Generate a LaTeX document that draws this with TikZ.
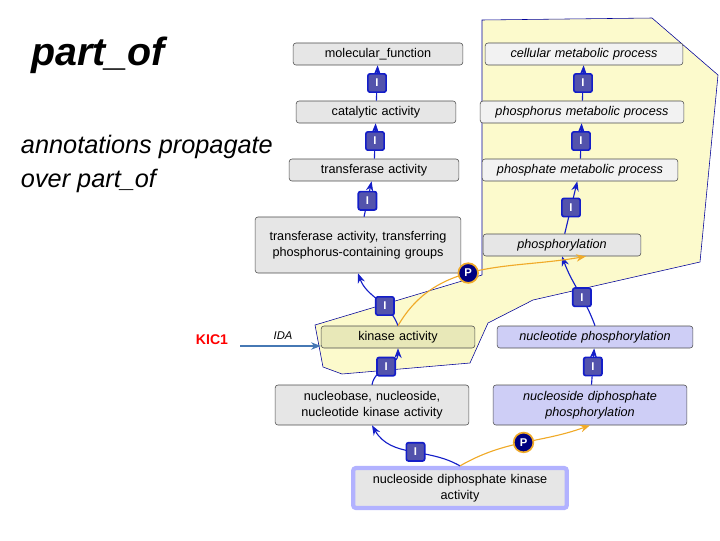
\documentclass[tikz,border=0pt]{standalone}
\usepackage{fontspec}
\setmainfont{Liberation Sans}
\usetikzlibrary{positioning,arrows.meta}
\definecolor{colorterm}  {RGB}{230,230,230}
\definecolor{colorkinase}{RGB}{232,232,184}
\definecolor{colorproc}  {RGB}{206,206,246}
\definecolor{colorhull}  {RGB}{252,250,204}
\definecolor{colorisa}   {RGB}{20,30,200}
\definecolor{colorpart}  {RGB}{240,170,40}
\definecolor{colorida}   {RGB}{70,120,180}

\begin{document}
\begin{tikzpicture}[
    x=0.025cm, y=-0.025cm,
    font={\small},
    term/.style={draw=black!70,fill=colorterm,rounded corners=2pt,align=center,inner sep=2pt,minimum height=0.55cm},
    proc/.style={term,font={\small\itshape}},
    isa/.style={-{Stealth[length=7pt]},thick,colorisa},
    partof/.style={-{Stealth[length=7pt]},thick,colorpart},
    ibadge/.style={draw=colorisa,very thick,fill=blue!35!gray,text=white,font={\footnotesize\bfseries},inner sep=1.5pt,minimum size=13pt,rounded corners=1.5pt},
    pbadge/.style={circle,draw=colorpart,very thick,fill=blue!50!black,text=white,font={\footnotesize\bfseries},inner sep=1pt,minimum size=14pt},
]
    \useasboundingbox (0,0) rectangle (720,540);

    % Hull
    \fill[colorhull,draw=blue!60!black] (482,20) -- (652,18) -- (718,75) -- (700,262) -- (533,300)
        -- (488,323) -- (470,363) -- (342,374) -- (323,367) -- (315,325)
        -- (482,275) -- cycle;

    % Nodes
    \node[term,text width=4.1cm]  (molfun)   at (378,54)  {molecular\_function};
    \node[term,text width=3.85cm] (catalytic) at (376,112) {catalytic activity};
    \node[term,text width=4.1cm]  (transf)   at (374,170) {transferase activity};
    \node[term,text width=5cm,minimum height=1.4cm] (transfp) at (358,245) {transferase activity, transferring phosphorus-containing groups};
    \node[term,fill=colorkinase,text width=3.7cm] (kinase) at (398,337) {kinase activity};
    \node[term,text width=4.7cm,minimum height=1cm] (nucleo) at (372,405) {nucleobase, nucleoside,\\ nucleotide kinase activity};
    \node[term,draw=blue!30,line width=3pt,text width=5.2cm,minimum height=1cm] (ndpk) at (460,488) {nucleoside diphosphate kinase\\ activity};

    \node[proc,fill=colorterm!50,text width=4.8cm] (cellmet)  at (584,54)  {cellular metabolic process};
    \node[proc,fill=colorterm!50,text width=4.95cm] (phosmet) at (582,112) {phosphorus metabolic process};
    \node[proc,fill=colorterm!50,text width=4.75cm] (phatmet) at (580,170) {phosphate metabolic process};
    \node[proc,text width=3.8cm] (phosph) at (562,245) {phosphorylation};
    \node[proc,fill=colorproc,text width=4.75cm] (ntphos) at (595,337) {nucleotide phosphorylation};
    \node[proc,fill=colorproc,text width=4.7cm,minimum height=1cm] (ndphos) at (590,405) {nucleoside diphosphate\\ phosphorylation};

    % Text
    \node[font={\fontsize{28}{32}\selectfont\bfseries\itshape}] (title) at (98,55) {part\_of};
    \node[font={\fontsize{18}{24}\selectfont\itshape},align=left,anchor=west] (note) at (16,164) {annotations propagate\\over part\_of};
    \node[text=red,font={\normalsize\bfseries}] (kic) at (212,340) {KIC1};
    \node[font={\footnotesize\itshape}] (ida) at (283,336) {IDA};
    \coordinate (idastart) at (240,346);
    \draw[-{Stealth[length=7pt]},thick,colorida] (idastart) -- (kinase.west|-idastart);

    % Arrows
    \draw[isa] (catalytic) -- node[ibadge]{I} (molfun);
    \draw[isa] (transf) -- node[ibadge]{I} (catalytic);
    \draw[isa] (transfp) -- node[ibadge,pos=0.45]{I} (transf);
    \draw[isa] (kinase.north) to[out=110,in=-70] node[ibadge,pos=0.35]{I} (transfp.south);
    \draw[isa] (nucleo.north) to[out=80,in=-90] node[ibadge]{I} (kinase.south);
    \draw[isa] (ndpk.north) to[out=150,in=-60] node[ibadge,pos=0.45]{I} (nucleo.south);
    \draw[isa] (phosmet) -- node[ibadge]{I} (cellmet);
    \draw[isa] (phatmet) -- node[ibadge]{I} (phosmet);
    \draw[isa] (phosph) -- node[ibadge]{I} (phatmet);
    \draw[isa] (ntphos.north) to[out=110,in=-70] node[ibadge,pos=0.4]{I} (phosph.south);
    \draw[isa] (ndphos) -- node[ibadge]{I} (ntphos);
    \draw[partof] (kinase.north) to[out=60,in=190] node[pbadge,pos=0.45]{P} ([xshift=0.6cm]phosph.south);
    \draw[partof] (ndpk.north) to[out=30,in=200] node[pbadge,pos=0.5]{P} (ndphos.south);
\end{tikzpicture}
\end{document}
